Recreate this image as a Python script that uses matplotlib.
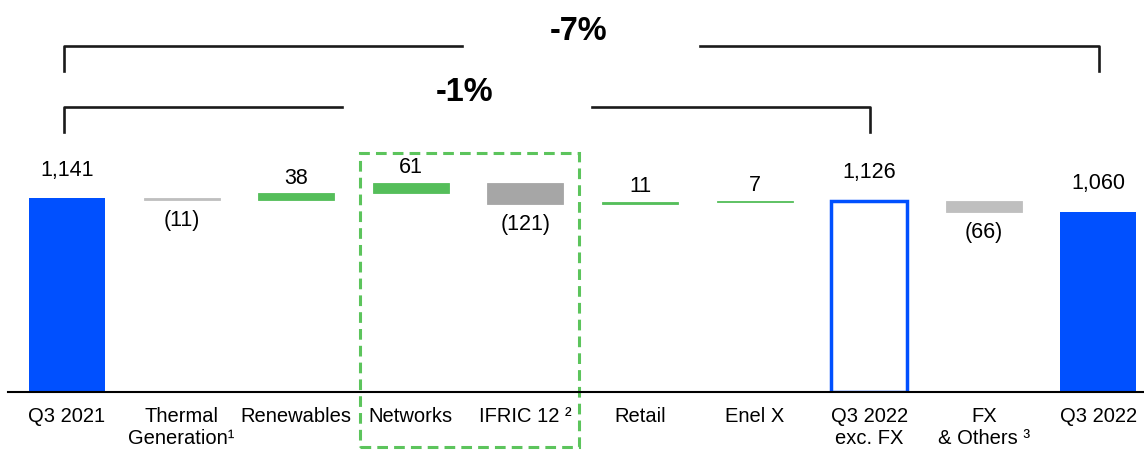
import numpy as np
import matplotlib
matplotlib.use('Agg')
import matplotlib.pyplot as plt
from matplotlib.patches import Rectangle

plt.rcParams['font.family'] = ['Liberation Sans', 'DejaVu Sans']

# Data
categories = ['Q3 2021', 'Thermal\nGeneration\u00b9', 'Renewables', 'Networks', 'IFRIC 12 \u00b2',
              'Retail', 'Enel X', 'Q3 2022\nexc. FX', 'FX\n& Others \u00b3', 'Q3 2022']
kinds = ['total', 'delta', 'delta', 'delta', 'delta', 'delta', 'delta', 'subtotal', 'delta', 'total']
values = [1141, -11, 38, 61, -121, 11, 7, 1126, -66, 1060]
colors = ['#0050FF', '#BFBFBF', '#55BE5A', '#55BE5A', '#A6A6A6',
          '#55BE5A', '#55BE5A', '#0050FF', '#BFBFBF', '#0050FF']
labels = ['1,141', '(11)', '38', '61', '(121)', '11', '7', '1,126', '(66)', '1,060']

# brackets: (start index, end index, text)
brackets = [(0, 9, '-7%'), (0, 7, '-1%')]

fig = plt.figure(figsize=(11.44, 4.5), dpi=100)
ax = fig.add_axes([8 / 1144, (450 - 392) / 450, 1136 / 1144, 392 / 450])

x = np.arange(len(categories))
width = 0.663
running = 0
for i, (kind, v) in enumerate(zip(kinds, values)):
    if kind in ('total', 'subtotal'):
        bottom, height = 0, v
        running = v
    else:
        bottom = running + min(v, 0)
        height = abs(v)
        running += v

    if kind == 'subtotal':
        ax.bar(i, height, width, bottom=bottom, facecolor='white', edgecolor=colors[i], linewidth=2.5)
    elif kind == 'total':
        ax.bar(i, height, width, bottom=bottom, color=colors[i], linewidth=0)
    else:
        ax.bar(i, height, width, bottom=bottom, facecolor=colors[i], edgecolor=colors[i], linewidth=0.6)

    top = bottom + height
    if kind in ('total', 'subtotal'):
        ax.annotate(labels[i], (i, top), xytext=(0, 20), textcoords='offset points',
                    ha='center', va='center', fontsize=15.5)
    elif v >= 0:
        ax.annotate(labels[i], (i, top), xytext=(0, 11), textcoords='offset points',
                    ha='center', va='center', fontsize=15.5)
    else:
        ax.annotate(labels[i], (i, bottom), xytext=(0, -15), textcoords='offset points',
                    ha='center', va='center', fontsize=15.5)

ax.set_xlim(-0.515, 9.398)
ax.set_ylim(0, 2305)

# brackets with percentage text
bracket_y = [2035, 1676]
bracket_drop = 150
gaps = [(3.447, 5.524), (2.40, 4.58)]
text_pos = [(4.46, 2117), (3.47, 1764)]
for (s, e, txt), by, (g0, g1), (tx, ty) in zip(brackets, bracket_y, gaps, text_pos):
    s -= 0.026
    e += 0.005
    ax.plot([s, s, g0], [by - bracket_drop, by, by], color='#1a1a1a', lw=1.9,
            solid_joinstyle='round', clip_on=False)
    ax.plot([g1, e, e], [by, by, by - bracket_drop], color='#1a1a1a', lw=1.9,
            solid_joinstyle='round', clip_on=False)
    ax.text(tx, ty, txt, ha='center', va='center', fontsize=23.5, fontweight='bold')

# dashed highlight box around Networks / IFRIC 12
box = Rectangle((2.557, -323), 4.468 - 2.557, 1406 + 323, fill=False,
                edgecolor='#5CC45C', linestyle=(0, (3.5, 2)), linewidth=2.2, clip_on=False)
ax.add_patch(box)

ax.set_xticks(x)
ax.set_xticklabels(categories, fontsize=14.5, linespacing=1.15)
ax.tick_params(axis='x', length=0, pad=11)
ax.set_yticks([])
for side in ['top', 'right', 'left']:
    ax.spines[side].set_visible(False)
ax.spines['bottom'].set_linewidth(1.5)

fig.savefig('out.png', dpi=100, facecolor='white')
